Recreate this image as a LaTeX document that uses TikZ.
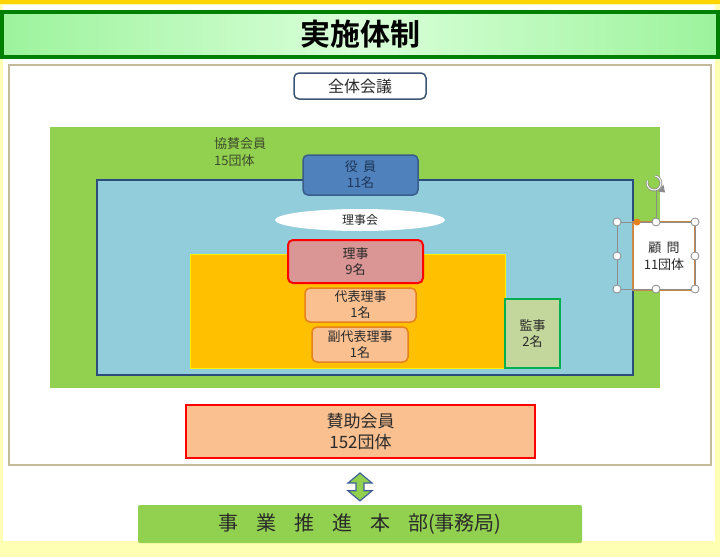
\documentclass[tikz,border=0pt]{standalone}
\usepackage{fontspec}
\setmainfont{Noto Sans CJK JP}
\newfontfamily\jpb{Noto Sans CJK JP Bold}
\usetikzlibrary{shapes.geometric,calc}
\definecolor{pageyel}{HTML}{FFFFB4}
\definecolor{gold}{HTML}{FFD400}
\definecolor{titlegreen}{HTML}{008000}
\definecolor{lgreenA}{HTML}{9CF39C}
\definecolor{lgreenB}{HTML}{DAFFDA}
\definecolor{framec}{HTML}{C4BC98}
\definecolor{navy}{HTML}{3B5676}
\definecolor{leaf}{HTML}{92D050}
\definecolor{skyb}{HTML}{92CDDC}
\definecolor{bluebord}{HTML}{2C4C7C}
\definecolor{yakuin}{HTML}{4F81BD}
\definecolor{yakuinb}{HTML}{385D8A}
\definecolor{amber}{HTML}{FFC000}
\definecolor{rose}{HTML}{D99694}
\definecolor{peach}{HTML}{FAC090}
\definecolor{orbord}{HTML}{E6821E}
\definecolor{sage}{HTML}{C3D69B}
\definecolor{kgreen}{HTML}{00B050}
\definecolor{komon}{HTML}{C8884A}
\definecolor{handle}{HTML}{8C8C8C}
\definecolor{txtdark}{HTML}{2A2A2A}
\definecolor{txtgreen}{HTML}{3E4A2C}
\definecolor{txtnavy}{HTML}{1F3658}
\definecolor{arrowb}{HTML}{3F6296}
\tikzset{
  rbox/.style={rounded corners=5pt, align=center, inner sep=0pt, font=\fontsize{13}{16}\selectfont, text=txtdark},
  handlept/.style={circle, draw=handle, fill=white, line width=0.8pt, minimum size=8pt, inner sep=0pt},
}
\begin{document}
\begin{tikzpicture}[x=1pt,y=-1pt]
\useasboundingbox (0,0) rectangle (720,557);
% page
\fill[pageyel] (0,0) rectangle (720,557);
\fill[white] (3,5) rectangle (715,541);
\fill[gold] (0,0) rectangle (720,4);
% title bar
\shade[left color=lgreenA, right color=lgreenA, middle color=lgreenB] (2,12) rectangle (718,57);
\draw[titlegreen, line width=4pt] (2,12) rectangle (718,57);
\node[font=\jpb\fontsize{30}{30}\selectfont, text=black] (title) at (360,34.5) {実施体制};
% outer frame
\draw[framec, fill=white, line width=2.5pt] (9,65) rectangle (711,465);
% 全体会議
\node[rbox, draw=navy, line width=1.5pt, fill=white, minimum width=132pt, minimum height=26pt, font=\fontsize{16}{18}\selectfont] (zentai) at (360,86) {全体会議};
% green area
\fill[leaf] (50,127) rectangle (660,388);
\node[anchor=north west, align=left, inner sep=0pt, text=txtgreen, font=\fontsize{13}{17}\selectfont] (kyosan) at (214,137) {協賛会員\\15団体};
% blue area
\draw[bluebord, fill=skyb, line width=1.5pt] (97,180) rectangle (633,375);
% 役員
\node[rbox, draw=yakuinb, line width=1.5pt, fill=yakuin, text=txtnavy, minimum width=115pt, minimum height=40pt] (yakuin) at (360.5,175) {役\hspace{0.4em}員\\11名};
% ellipse
\node[ellipse, fill=white, minimum width=170pt, minimum height=22pt, inner sep=0pt, font=\fontsize{12}{14}\selectfont, text=txtdark] (rijikai) at (360,220) {理事会};
% amber area
\draw[yellow, fill=amber, line width=1pt] (190,254) rectangle (505,368);
% 理事
\node[rbox, draw=red, line width=2pt, fill=rose, minimum width=135pt, minimum height=43pt] (riji) at (355.5,261.5) {理事\\9名};
\node[rbox, draw=orbord, line width=1.5pt, fill=peach, minimum width=111pt, minimum height=34pt] (daihyo) at (360.5,305) {代表理事\\1名};
\node[rbox, draw=orbord, line width=1.5pt, fill=peach, minimum width=96pt, minimum height=35pt] (fuku) at (360,344.5) {副代表理事\\1名};
% 監事
\node[draw=kgreen, line width=2pt, fill=sage, minimum width=55pt, minimum height=69pt, align=center, inner sep=0pt, font=\fontsize{13}{16}\selectfont, text=txtdark] (kanji) at (532.5,333.5) {監事\\2名};
% 顧問 with selection handles
\node[draw=komon, line width=1.5pt, fill=white, minimum width=62pt, minimum height=68pt, align=center, inner sep=0pt, font=\fontsize{13}{17}\selectfont, text=txtdark] (komon) at (664,256) {顧\hspace{0.4em}問\\11団体};
\coordinate (selNW) at (617,222);
\coordinate (selSE) at (695,289);
\draw[handle, line width=0.8pt] (selNW) rectangle (selSE);
\draw[handle, line width=0.8pt] (656,222) -- (656,191);
\fill[orbord] (637,222) circle (3.5pt);
\foreach \hx/\hy/\hn in {617/222/h1,656/222/h2,695/222/h3,617/256/h4,695/256/h5,617/289/h6,656/289/h7,695/289/h8}
  \node[handlept] (\hn) at (\hx,\hy) {};
\draw[handle, line width=2.6pt] (654,183) ++(200:7) arc[start angle=200, end angle=-80, radius=7];
\draw[white, line width=1pt] (654,183) ++(200:7) arc[start angle=200, end angle=-80, radius=7];
\fill[handle] (658,191.5) -- (663.5,184.5) -- (665,192.5) -- cycle;
% 賛助会員
\node[draw=red, line width=2pt, fill=peach, minimum width=349pt, minimum height=53pt, align=center, inner sep=0pt, font=\fontsize{17}{21}\selectfont, text=txtdark] (sanjo) at (360.5,431.5) {賛助会員\\152団体};
% 事業推進本部
\node[fill=leaf, rounded corners=2pt, minimum width=444pt, minimum height=38pt, inner sep=0pt, font=\fontsize{20}{22}\selectfont, text=txtdark] (honbu) at (360,524) {事\hspace{0.9em}業\hspace{0.9em}推\hspace{0.9em}進\hspace{0.9em}本\hspace{0.9em}部(事務局)};
% double arrow between 賛助会員 and 事業推進本部
\coordinate (at) at ($(sanjo.south)+(-0.5,14)$);
\coordinate (ab) at ($(honbu.north)+(0,-4)$);
\draw[arrowb, line width=1.2pt, fill=leaf, line join=miter]
  (at) -- ++(12,10) -- ++(-8,0) -- ($(ab)+(4,-10)$) -- ++(8,0) -- (ab)
  -- ++(-12,-10) -- ++(8,0) -- ($(at)+(-4,10)$) -- ++(-8,0) -- cycle;
\end{tikzpicture}
\end{document}
